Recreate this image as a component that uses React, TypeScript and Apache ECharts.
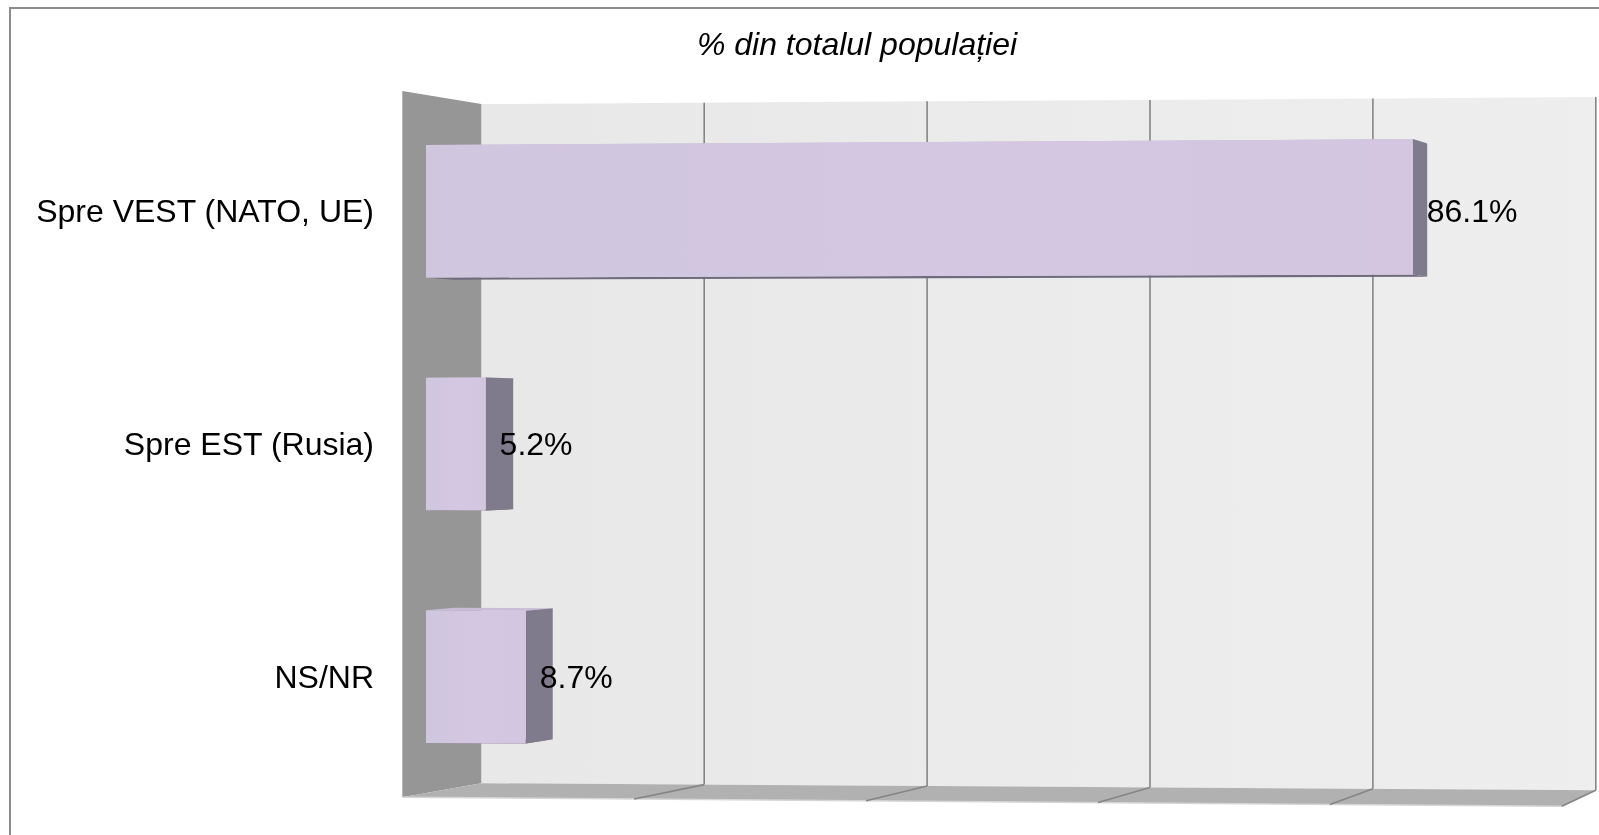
import React, { useEffect, useRef } from "react";
import * as echarts from "echarts";

const categories = ["Spre VEST (NATO, UE)", "Spre EST (Rusia)", "NS/NR"];
const values = [86.1, 5.2, 8.7];
const valueLabels = ["86.1%", "5.2%", "8.7%"];
const titleText = "% din totalul populației";
const axisMin = 0;
const axisMax = 100;
const axisInterval = 20;

// depth of the bars inside the 3D box (0 = front edge, 1 = back wall)
const BAR_Z0 = 0.3;
const BAR_Z1 = 0.66;

function makeProj(rect: any) {
  return (X: number, Y: number, z: number): number[] => {
    const fx = (X - rect.x) / rect.width;
    const u = (rect.y + rect.height - Y) / rect.height;
    const tilt = fx * (8.4 + (-8.05 - 8.4) * u);
    const dz = z - BAR_Z0;
    const dx = dz * (79 - 45 * fx);
    const dyB = -14 - 2 * fx;
    const dyT = 13 + 1.5 * fx;
    const dy = dz * (dyB + (dyT - dyB) * u);
    return [X + dx, Y + tilt + dy];
  };
}

export default function App() {
  const ref = useRef<HTMLDivElement>(null);
  useEffect(() => {
    document.body.style.margin = "0";
    const chart = echarts.init(ref.current!, null, { renderer: "svg" });
    const font = "'Liberation Sans', Arial, sans-serif";

    const wallsRender = (params: any, api: any) => {
      const rect = params.coordSys;
      const proj = makeProj(rect);
      const xAt = (v: number) => api.coord([v, 0])[0];
      const yAt = (u: number) => rect.y + rect.height * (1 - u);
      const P = (v: number, u: number, z: number) => proj(xAt(v), yAt(u), z);
      const children: any[] = [];
      children.push({
        type: "polygon",
        shape: { points: [P(axisMin, 0, 1), P(axisMax, 0, 1), P(axisMax, 1, 1), P(axisMin, 1, 1)] },
        style: {
          fill: new echarts.graphic.LinearGradient(0, 0, 1, 0, [
            { offset: 0, color: "#e8e8e8" },
            { offset: 1, color: "#eeeeee" },
          ]),
        },
      });
      children.push({
        type: "polygon",
        shape: { points: [P(axisMin, 0, 0), P(axisMin, 0, 1), P(axisMin, 1, 1), P(axisMin, 1, 0)] },
        style: { fill: "#969696" },
      });
      children.push({
        type: "polygon",
        shape: { points: [P(axisMin, 0, 0), P(axisMax, 0, 0), P(axisMax, 0, 1), P(axisMin, 0, 1)] },
        style: { fill: "#b1b1b1" },
      });
      children.push({
        type: "line",
        shape: { x1: P(axisMin, 0, 0)[0], y1: P(axisMin, 0, 0)[1], x2: P(axisMax, 0, 0)[0], y2: P(axisMax, 0, 0)[1] },
        style: { stroke: "#d6d6d6", lineWidth: 1.5 },
      });
      for (let v = axisMin + axisInterval; v <= axisMax + 1e-9; v += axisInterval) {
        const a = P(v, 0, 1);
        const b = P(v, 1, 1);
        const c = P(v, 0, 0);
        children.push({
          type: "line",
          shape: { x1: a[0], y1: a[1], x2: b[0], y2: b[1] },
          style: { stroke: "#858585", lineWidth: 1.6 },
        });
        children.push({
          type: "line",
          shape: { x1: a[0], y1: a[1], x2: c[0], y2: c[1] },
          style: { stroke: "#858585", lineWidth: 1.6 },
        });
      }
      return { type: "group", children };
    };

    const barsRender = (params: any, api: any) => {
      const rect = params.coordSys;
      const proj = makeProj(rect);
      const v = api.value(0);
      const cat = api.value(1);
      const [X1, Yc] = api.coord([v, cat]);
      const X0 = api.coord([axisMin, cat])[0];
      const bh = api.size([0, 1])[1] * 0.57;
      const Yt = Yc - bh / 2;
      const Yb = Yc + bh / 2;
      const front = [proj(X0, Yb, BAR_Z0), proj(X1, Yb, BAR_Z0), proj(X1, Yt, BAR_Z0), proj(X0, Yt, BAR_Z0)];
      const side = [proj(X1, Yb, BAR_Z0), proj(X1, Yb, BAR_Z1), proj(X1, Yt, BAR_Z1), proj(X1, Yt, BAR_Z0)];
      const top = [proj(X0, Yt, BAR_Z0), proj(X1, Yt, BAR_Z0), proj(X1, Yt, BAR_Z1), proj(X0, Yt, BAR_Z1)];
      const bottom = [proj(X0, Yb, BAR_Z0), proj(X1, Yb, BAR_Z0), proj(X1, Yb, BAR_Z1), proj(X0, Yb, BAR_Z1)];
      const lp = proj(X1, Yc, BAR_Z0);
      return {
        type: "group",
        children: [
          { type: "polygon", shape: { points: top }, style: { fill: "#c8bcd6" } },
          { type: "polygon", shape: { points: bottom }, style: { fill: "#6f6a7c" } },
          { type: "polygon", shape: { points: side }, style: { fill: "#7f7a8c" } },
          {
            type: "polygon",
            shape: { points: front },
            style: {
              fill: new echarts.graphic.LinearGradient(0, 0, 1, 0, [
                { offset: 0, color: "#d0c6de" },
                { offset: 0.5, color: "#d3c7e1" },
                { offset: 1, color: "#d4c6e0" },
              ]),
            },
          },
          {
            type: "text",
            style: {
              text: valueLabels[params.dataIndex],
              x: lp[0] + 14,
              y: Yc,
              font: `32px ${font}`,
              fill: "#000",
              textAlign: "left",
              textVerticalAlign: "middle",
              align: "left",
              verticalAlign: "middle",
            },
          },
        ],
      };
    };

    chart.setOption({
      animation: false,
      grid: { left: 426, right: 27, top: 95, bottom: 42, containLabel: false },
      xAxis: {
        type: "value",
        min: axisMin,
        max: axisMax,
        interval: axisInterval,
        axisLabel: { show: false },
        axisLine: { show: false },
        axisTick: { show: false },
        splitLine: { show: false },
      },
      yAxis: {
        type: "category",
        inverse: true,
        data: categories,
        axisLine: { show: false },
        axisTick: { show: false },
        splitLine: { show: false },
        axisLabel: { margin: 52, fontSize: 32, color: "#000", fontFamily: font },
        z: 10,
      },
      graphic: [
        {
          type: "rect",
          shape: { x: 10, y: 8, width: 1800, height: 900 },
          style: { fill: "none", stroke: "#8c8c8c", lineWidth: 2 },
          z: 0,
        },
        {
          type: "text",
          style: {
            text: titleText,
            x: 857,
            y: 44,
            font: `italic 32px ${font}`,
            fill: "#000",
            textAlign: "center",
            textVerticalAlign: "middle",
            align: "center",
            verticalAlign: "middle",
          },
        },
      ],
      series: [
        {
          type: "custom",
          renderItem: wallsRender,
          data: [[0, 0]],
          encode: { x: 0, y: 1 },
          clip: false,
          silent: true,
          z: 1,
        },
        {
          type: "custom",
          renderItem: barsRender,
          data: values.map((v, i) => [v, i]),
          encode: { x: 0, y: 1 },
          clip: false,
          z: 3,
        },
      ],
    });
    return () => chart.dispose();
  }, []);
  return <div ref={ref} style={{ position: "fixed", left: 0, top: 0, width: 1599, height: 835 }} />;
}
